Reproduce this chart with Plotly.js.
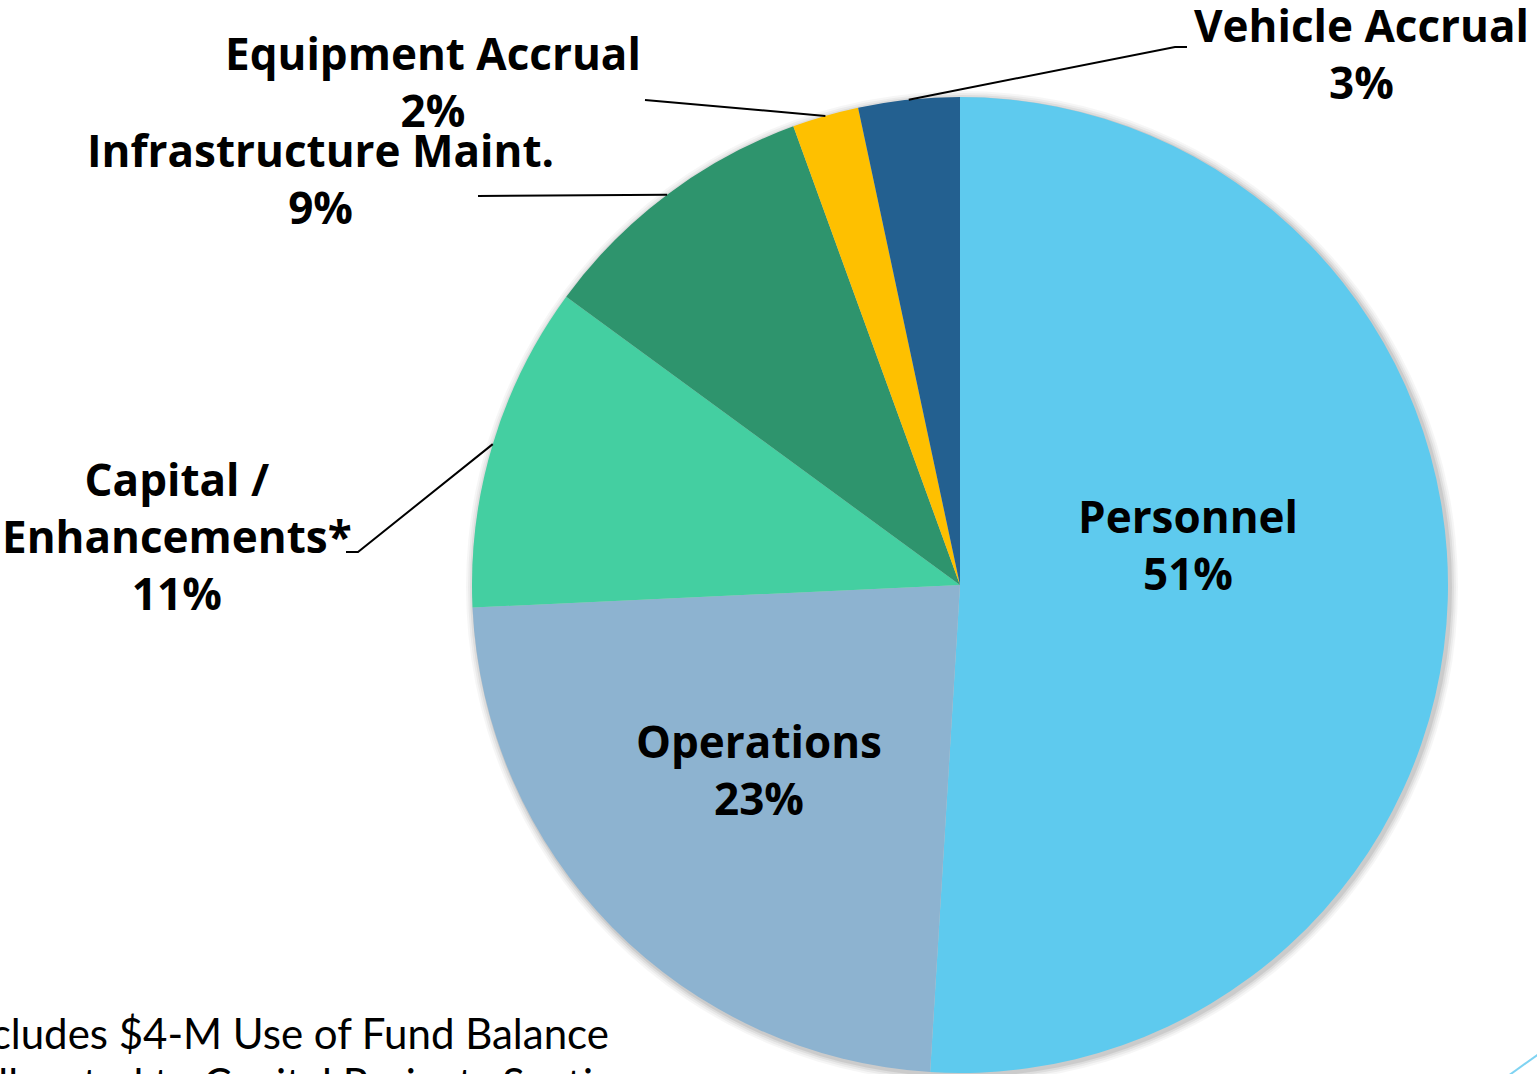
<!DOCTYPE html>
<html>
<head>
<meta charset="utf-8">
<script src="https://cdn.plot.ly/plotly-3.0.1.min.js"></script>
<style>html,body{margin:0;padding:0;background:#fff;overflow:hidden}#chart{width:1537px;height:1074px}</style>
</head>
<body>
<div id="chart"></div>
<script>
// ---- data ----
const categories = ["Personnel", "Operations", "Capital / Enhancements*", "Infrastructure Maint.", "Equipment Accrual", "Vehicle Accrual"];
const labelText = ["Personnel", "Operations", "Capital /<br>Enhancements*", "Infrastructure Maint.", "Equipment Accrual", "Vehicle Accrual"];
const values = [51.0, 23.3, 10.8, 9.4, 2.2, 3.35];
const colors = ["#5ECAEE", "#8DB3D0", "#44CFA1", "#2E946D", "#FEC000", "#236090"];
const footnoteLines = ["*Includes $4-M Use of Fund Balance", "Allocated to Capital Projects Section"];

// ---- layout constants ----
const W = 1537, H = 1074;
const CX = 960, CY = 585, R = 488;
const px = x => x / W;
const py = y => 1 - y / H;

// label block centres (pixels) and leader-line elbows, per category index
const labelPos = [[1188, 544], [759, 769], [177, 536], [320, 179], [433, 81], [1361, 53]];
const leaders = {
  2: [[358, 552], [346, 552]],
  3: [[478, 196]],
  4: [[645, 100]],
  5: [[1175, 47], [1187, 47]]
};

const total = values.reduce((a, b) => a + b, 0);
let cum = 0;
const midAngles = values.map(v => { const m = 360 * (cum + v / 2) / total; cum += v; return m; });

const annotations = categories.map((c, i) => ({
  text: labelText[i] + "<br>" + Math.round(values[i] / total * 100) + "%",
  x: px(labelPos[i][0]), y: py(labelPos[i][1]),
  xref: "paper", yref: "paper", xanchor: "center", yanchor: "middle",
  showarrow: false, align: "center",
  font: {family: "'Open Sans', 'Noto Sans', sans-serif", size: 44, color: "#000", weight: "bold"}
}));
annotations.push({
  text: footnoteLines[0], x: px(611), y: py(1033), xref: "paper", yref: "paper",
  xanchor: "right", yanchor: "middle", showarrow: false,
  font: {family: "Lato, sans-serif", size: 42, color: "#000"}
});
annotations.push({
  text: footnoteLines[1], x: px(-32), y: py(1083), xref: "paper", yref: "paper",
  xanchor: "left", yanchor: "middle", showarrow: false,
  font: {family: "Lato, sans-serif", size: 42, color: "#000"}
});

const shapes = [];
// soft shadow behind the pie
[[8, 0.035], [6, 0.045], [4, 0.06], [2, 0.08]].forEach(([d, a]) => {
  shapes.push({type: "circle", xref: "paper", yref: "paper", layer: "below",
    x0: px(CX - R - d + 2), x1: px(CX + R + d + 2), y0: py(CY + R + d + 2), y1: py(CY - R - d + 2),
    fillcolor: "rgba(0,0,0," + a + ")", line: {width: 0}});
});
// leader lines from slice mid-angles
Object.keys(leaders).forEach(k => {
  const i = +k;
  const t = midAngles[i] * Math.PI / 180;
  const sx = CX + R * Math.sin(t), sy = CY - R * Math.cos(t);
  let p = "M " + px(sx) + "," + py(sy);
  leaders[k].forEach(q => { p += " L " + px(q[0]) + "," + py(q[1]); });
  shapes.push({type: "path", xref: "paper", yref: "paper", path: p, line: {color: "#000", width: 2}});
});
// decorative corner stroke
shapes.push({type: "line", xref: "paper", yref: "paper", x0: px(1508), y0: py(1076), x1: px(1540), y1: py(1053),
  line: {color: "#7FD3F2", width: 2}});

const trace = {
  type: "pie",
  labels: categories,
  values: values,
  sort: false,
  direction: "clockwise",
  rotation: 0,
  marker: {colors: colors, line: {width: 0}},
  textinfo: "none",
  hoverinfo: "label+percent",
  showlegend: false,
  domain: {x: [px(CX - R), px(CX + R)], y: [py(CY + R), py(CY - R)]}
};

const layout = {
  width: W, height: H,
  margin: {l: 0, r: 0, t: 0, b: 0},
  paper_bgcolor: "#fff",
  showlegend: false,
  annotations: annotations,
  shapes: shapes
};

Plotly.newPlot("chart", [trace], layout, {staticPlot: true, displayModeBar: false});
</script>
</body>
</html>
